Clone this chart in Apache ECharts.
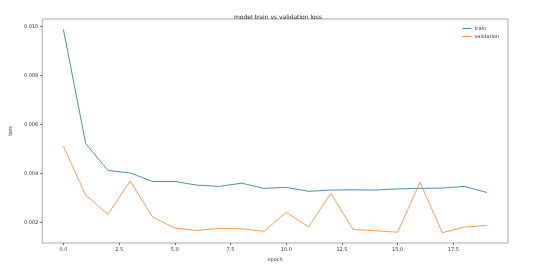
<!DOCTYPE html>
<html><head><meta charset="utf-8">
<script src="https://cdn.jsdelivr.net/npm/echarts@6/dist/echarts.min.js"></script>
<style>html,body{margin:0;padding:0;background:#fff}#c{width:540px;height:271px}</style>
</head><body><div id="c"></div>
<script>
const epochs = [0,1,2,3,4,5,6,7,8,9,10,11,12,13,14,15,16,17,18,19];
const trainLoss = [0.00988,0.00522,0.00412,0.00402,0.00367,0.00367,0.00352,0.00347,0.00360,0.00339,0.00343,0.00327,0.00332,0.00333,0.00332,0.00337,0.00339,0.00340,0.00347,0.00322];
const valLoss = [0.00511,0.00311,0.00233,0.00369,0.00222,0.00177,0.00167,0.00176,0.00174,0.00164,0.00241,0.00182,0.00318,0.00171,0.00166,0.00160,0.00364,0.00158,0.00181,0.00188];
const xTicks = [0,2.5,5,7.5,10,12.5,15,17.5];
const yTicks = [0.002,0.004,0.006,0.008,0.010];
const font = 'DejaVu Sans';
const chart = echarts.init(document.getElementById('c'), null, {renderer:'canvas'});
chart.setOption({
  animation:false,
  title:{text:'model train vs validation loss',left:273,top:9,textAlign:'center',
    textStyle:{fontFamily:font,fontSize:6,fontWeight:'normal',color:'#222'}},
  legend:{right:36,top:21,orient:'vertical',itemWidth:9,itemHeight:1,itemGap:3,
    icon:'rect',textStyle:{fontFamily:font,fontSize:5,color:'#333',padding:[0,0,0,-2]},
    data:['train','validation']},
  grid:{left:40,top:19,right:32,bottom:28,show:true,borderColor:'#aaa',borderWidth:1},
  xAxis:{type:'value',min:-0.95,max:19.95,name:'epoch',nameLocation:'middle',nameGap:11,
    nameTextStyle:{fontFamily:font,fontSize:5,color:'#333'},
    axisLine:{show:false,onZero:false},splitLine:{show:false},
    axisTick:{show:true,length:2,lineStyle:{color:'#666'},customValues:xTicks},
    axisLabel:{fontFamily:font,fontSize:5,color:'#333',margin:4,customValues:xTicks,
      formatter:v=>v.toFixed(1)}},
  yAxis:{type:'value',min:0.00116,max:0.0103,name:'loss',nameLocation:'middle',nameGap:21,
    nameTextStyle:{fontFamily:font,fontSize:5,color:'#333'},
    axisLine:{show:false,onZero:false},splitLine:{show:false},
    axisTick:{show:true,length:2,lineStyle:{color:'#666'},customValues:yTicks},
    axisLabel:{fontFamily:font,fontSize:5,color:'#333',margin:4,customValues:yTicks,
      formatter:v=>v.toFixed(3)}},
  series:[
    {name:'train',type:'line',data:epochs.map((e,i)=>[e,trainLoss[i]]),showSymbol:false,
      lineStyle:{width:0.9,color:'#3f7fa6'},itemStyle:{color:'#3f7fa6'}},
    {name:'validation',type:'line',data:epochs.map((e,i)=>[e,valLoss[i]]),showSymbol:false,
      lineStyle:{width:0.9,color:'#f5923a'},itemStyle:{color:'#f5923a'}}
  ]
});
</script></body></html>
